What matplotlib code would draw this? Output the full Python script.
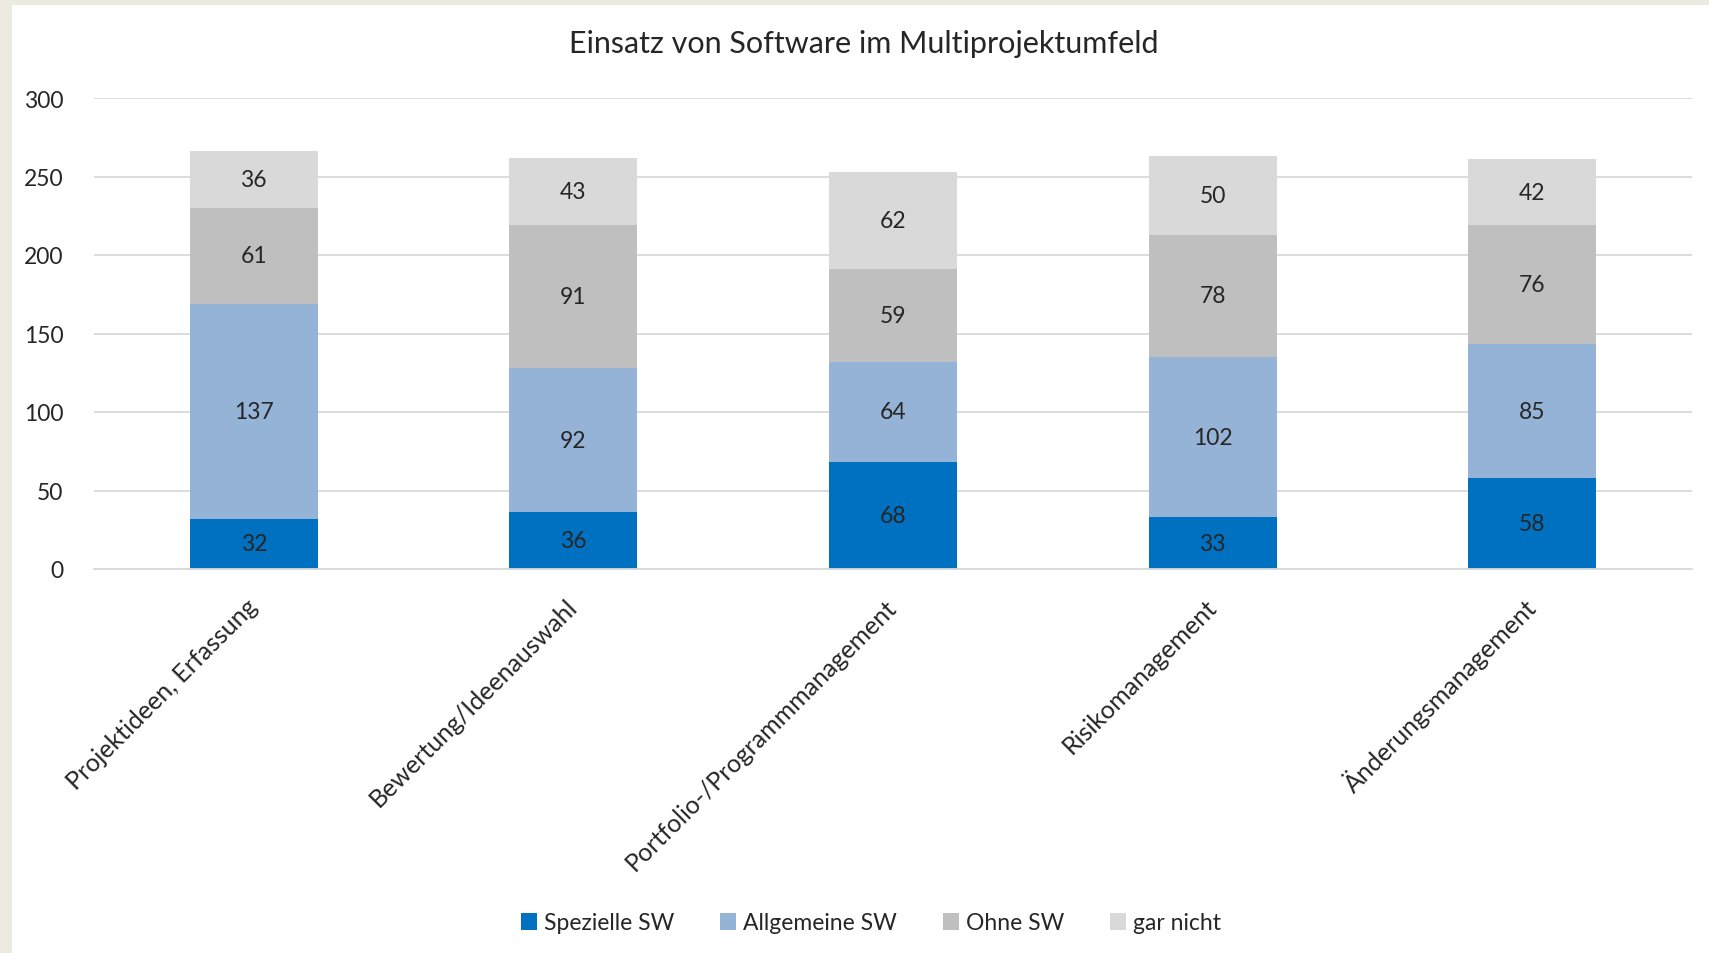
import numpy as np
import matplotlib
matplotlib.use("Agg")
import matplotlib.pyplot as plt
from matplotlib.patches import Rectangle

plt.rcParams['font.family'] = ['Lato', 'DejaVu Sans']

# Data
categories = ["Projektideen, Erfassung", "Bewertung/Ideenauswahl",
              "Portfolio-/Programmmanagement", "Risikomanagement",
              "Änderungsmanagement"]
series_names = ["Spezielle SW", "Allgemeine SW", "Ohne SW", "gar nicht"]
spezielle = [32, 36, 68, 33, 58]
allgemeine = [137, 92, 64, 102, 85]
ohne = [61, 91, 59, 78, 76]
gar_nicht = [36, 43, 62, 50, 42]
colors = ["#0070C0", "#95B3D7", "#BFBFBF", "#D9D9D9"]

fig = plt.figure(figsize=(17.09, 9.54), dpi=100, facecolor="#EDEADF")
# white slide area
fig.patches.append(Rectangle((12 / 1709, 0), 1 - 12 / 1709, 1 - 6 / 954,
                             transform=fig.transFigure, facecolor="white",
                             edgecolor="none", zorder=-10))

ax = fig.add_axes([94 / 1709, 1 - 570 / 954, (1692 - 94) / 1709, (570 - 99) / 954])
ax.set_facecolor("none")

x = np.arange(len(categories))
bottom = np.zeros(len(categories))
for name, vals, c in zip(series_names, [spezielle, allgemeine, ohne, gar_nicht], colors):
    bars = ax.bar(x, vals, width=0.4, bottom=bottom, color=c, label=name, zorder=2)
    ax.bar_label(bars, labels=[str(v) for v in vals], label_type="center",
                 fontsize=16.5, color="#262626")
    bottom += np.array(vals)

ax.set_xlim(-0.5, len(categories) - 0.5)
ax.set_ylim(0, 300)
ax.set_yticks(range(0, 301, 50))
ax.grid(axis="y", color="#D9D9D9", linewidth=1.3, zorder=0)
for s in ["top", "right", "left"]:
    ax.spines[s].set_visible(False)
ax.spines["bottom"].set_color("#D9D9D9")
ax.spines["bottom"].set_linewidth(1.3)
ax.tick_params(axis="y", length=0, labelsize=16.5, colors="#262626", pad=22)
ax.set_xticks(x)
ax.set_xticklabels(categories, rotation=45, ha="right", va="center",
                   rotation_mode="anchor", fontsize=18)
ax.tick_params(axis="x", length=0, colors="#262626", pad=24)

fig.text(864 / 1709, 1 - 44 / 954, "Einsatz von Software im Multiprojektumfeld",
         ha="center", va="center", fontsize=22, color="#262626")

fig.legend(loc="center", bbox_to_anchor=(871 / 1709, 1 - 924 / 954), ncol=4,
           frameon=False, fontsize=16.5, handlelength=0.7, handleheight=0.7,
           handletextpad=0.3, columnspacing=2.0, labelcolor="#262626")

fig.savefig("out.png", dpi=100, facecolor=fig.get_facecolor())
